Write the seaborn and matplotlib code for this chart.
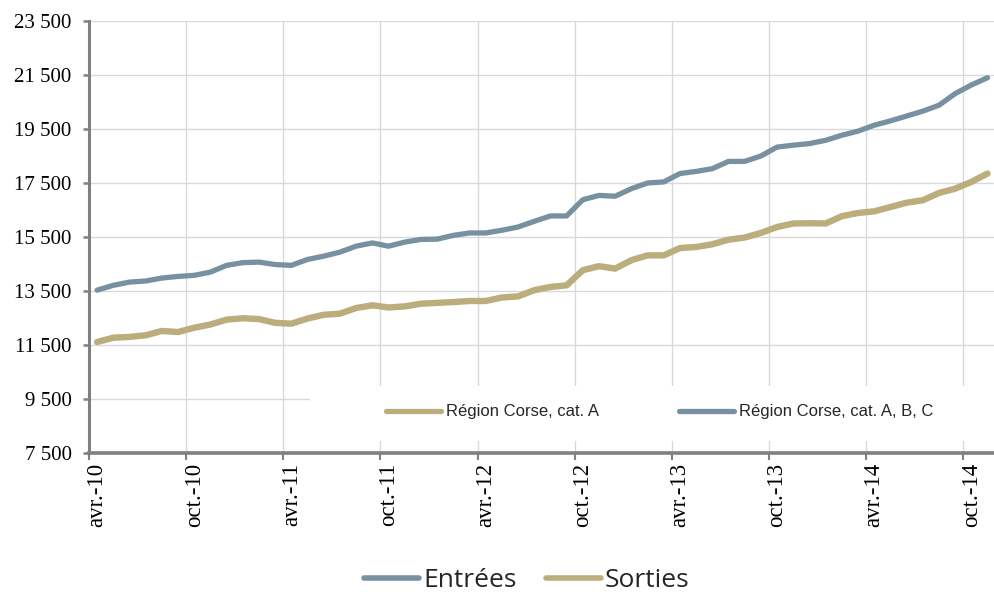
import numpy as np
import pandas as pd
import matplotlib
matplotlib.use("Agg")
import matplotlib.pyplot as plt
from matplotlib.lines import Line2D
from matplotlib.patches import Rectangle
from matplotlib.ticker import FixedLocator, FuncFormatter
import seaborn as sns

# monthly values, avr.-10 -> nov.-14
entrees = [13530, 13710, 13830, 13870, 13980, 14040, 14080, 14200, 14450, 14550,
           14570, 14480, 14450, 14670, 14790, 14940, 15160, 15280, 15160, 15310,
           15410, 15420, 15560, 15650, 15650, 15750, 15870, 16080, 16280, 16280,
           16880, 17040, 17010, 17290, 17500, 17540, 17850, 17930, 18030, 18300,
           18300, 18500, 18830, 18900, 18960, 19080, 19270, 19420, 19640, 19800,
           19980, 20160, 20380, 20810, 21130, 21400]
sorties = [11610, 11770, 11800, 11860, 12020, 11980, 12140, 12260, 12440, 12490,
           12460, 12320, 12290, 12480, 12620, 12660, 12870, 12970, 12890, 12930,
           13030, 13060, 13090, 13130, 13130, 13260, 13300, 13530, 13650, 13710,
           14270, 14420, 14330, 14640, 14820, 14820, 15090, 15130, 15230, 15400,
           15480, 15650, 15870, 16000, 16010, 16000, 16270, 16390, 16450, 16610,
           16770, 16860, 17130, 17290, 17540, 17850]
tick_labels = ["avr.-10", "oct.-10", "avr.-11", "oct.-11", "avr.-12",
               "oct.-12", "avr.-13", "oct.-13", "avr.-14", "oct.-14"]
inner_labels = ["Région Corse, cat. A", "Région Corse, cat. A, B, C"]
legend_labels = ["Entrées", "Sorties"]

BLUE = "#7791A1"
TAN = "#BBAE7C"
GRID = "#D9D9D9"
AXIS = "#808080"

n = len(entrees)
df = pd.DataFrame({"mois": np.arange(n), "entrees": entrees, "sorties": sorties})

sns.set_theme(style="white")
plt.rcParams["font.family"] = ["Liberation Serif", "DejaVu Serif"]

fig = plt.figure(figsize=(9.94, 5.92), dpi=100)
ax = fig.add_axes([89 / 994, 1 - 453 / 592, 905 / 994, 432 / 592])

sns.lineplot(data=df, x="mois", y="sorties", color=TAN, linewidth=4.6, ax=ax)
sns.lineplot(data=df, x="mois", y="entrees", color=BLUE, linewidth=3.8, ax=ax)
for line in ax.lines:
    line.set_solid_capstyle("round")
    line.set_solid_joinstyle("round")

ax.set_xlim(-0.5, 55.4)
ax.set_ylim(7500, 23500)
ax.set_xlabel("")
ax.set_ylabel("")

# y axis
ax.yaxis.set_major_locator(FixedLocator(np.arange(7500, 23501, 2000)))
ax.yaxis.set_major_formatter(FuncFormatter(lambda v, p: f"{v:,.0f}".replace(",", " ")))
ax.tick_params(axis="y", direction="out", length=4.5, width=1.8, color=AXIS,
               pad=8, labelsize=15, labelcolor="black", left=True)

# x axis: gridlines between months, labels centred on months
ax.xaxis.set_major_locator(FixedLocator(np.arange(-0.5, n, 6)))
ax.xaxis.set_major_formatter(FuncFormatter(lambda v, p: ""))
ax.xaxis.set_minor_locator(FixedLocator(np.arange(0, n, 6)))
ax.set_xticklabels(tick_labels, minor=True, rotation=90)
ax.tick_params(axis="x", which="major", direction="out", length=5, width=1.5,
               color=AXIS, bottom=True)
ax.tick_params(axis="x", which="minor", length=0, pad=7, labelsize=16.5,
               labelcolor="black")

ax.set_axisbelow(True)
ax.grid(True, which="major", color=GRID, linewidth=1)

sns.despine(ax=ax, top=True, right=True)
ax.spines["left"].set_color(AXIS)
ax.spines["left"].set_linewidth(2.2)
ax.spines["bottom"].set_color(AXIS)
ax.spines["bottom"].set_linewidth(2.6)

# white box behind the inner legend
ax.add_patch(Rectangle((0.244, 0.028), 0.756, 0.127, transform=ax.transAxes,
                       facecolor="white", edgecolor="none", zorder=1.5))

inner_handles = [Line2D([], [], color=TAN, lw=3.8, solid_capstyle="round"),
                 Line2D([], [], color=BLUE, lw=3.8, solid_capstyle="round")]
ax.legend(inner_handles, inner_labels, loc="center", bbox_to_anchor=(0.631, 0.095),
          ncol=2, frameon=False, handlelength=3.3, handletextpad=0.3,
          columnspacing=4.8, prop={"family": "Liberation Sans", "size": 12})

outer_handles = [Line2D([], [], color=BLUE, lw=4, solid_capstyle="round"),
                 Line2D([], [], color=TAN, lw=4, solid_capstyle="round")]
fig.legend(outer_handles, legend_labels, loc="center", bbox_to_anchor=(0.530, 0.019),
           ncol=2, frameon=False, handlelength=2.1, handletextpad=0.15,
           columnspacing=1.1, prop={"family": "Open Sans", "size": 19})

fig.savefig("out.png", dpi=100)
